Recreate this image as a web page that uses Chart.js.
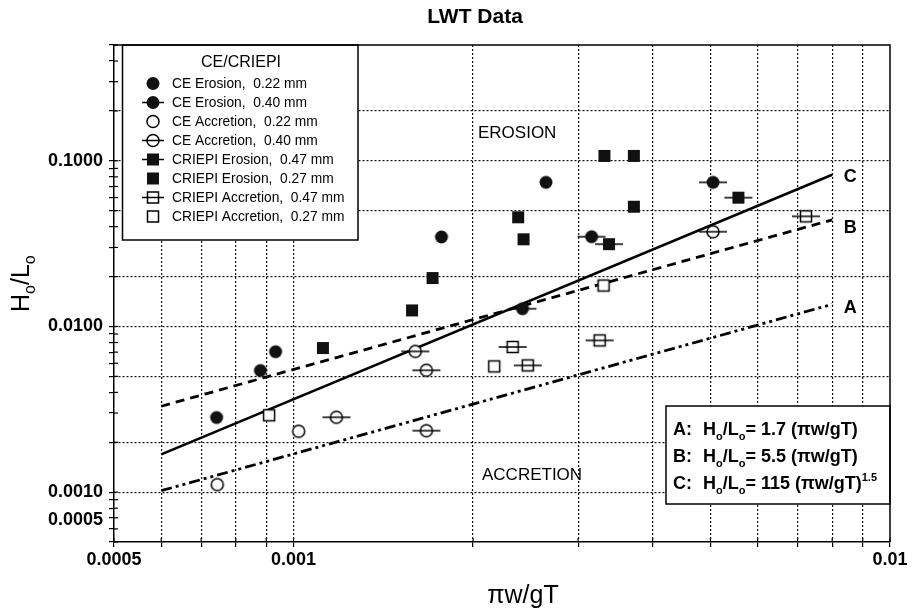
<!DOCTYPE html>
<html>
<head>
<meta charset="utf-8">
<title>LWT Data</title>
<script src="https://cdn.jsdelivr.net/npm/chart.js@4.4.1/dist/chart.umd.min.js"></script>
<style>
  html, body { margin: 0; padding: 0; background: #fff; }
</style>
</head>
<body>
<canvas id="lwtChart" width="912" height="613"></canvas>
<script>
// CE points (x = pi*w/gT, y = Ho/Lo)
const ceEro22X = [0.000743, 0.00088, 0.000933, 0.00177, 0.00265];
const ceEro22Y = [0.00282, 0.00542, 0.00704, 0.0347, 0.0741];
const ceEro40X = [0.00242, 0.00316, 0.00505];
const ceEro40Y = [0.0128, 0.0348, 0.0741];
const ceAcc22X = [0.000745, 0.00102];
const ceAcc22Y = [0.00111, 0.00233];
const ceAcc40X = [0.00118, 0.0016, 0.00167, 0.00167, 0.00505];
const ceAcc40Y = [0.00283, 0.00707, 0.00544, 0.00235, 0.0373];

// CRIEPI points
const crEro47X = [0.00338, 0.00557];
const crEro47Y = [0.0314, 0.0599];
const crEro27X = [0.00112, 0.00158, 0.00171, 0.00238, 0.00243, 0.00332, 0.00372, 0.00372];
const crEro27Y = [0.00741, 0.0125, 0.0196, 0.0456, 0.0336, 0.107, 0.107, 0.0528];
const crAcc47X = [0.00233, 0.00247, 0.00326, 0.00723];
const crAcc47Y = [0.00752, 0.00582, 0.00824, 0.0462];
const crAcc27X = [0.00091, 0.00217, 0.00331];
const crAcc27Y = [0.00291, 0.00574, 0.01766];

// criteria lines A, B, C (end points)
const lineX = [0.0006, 0.008];
const lineA = [0.00102, 0.0136];
const lineB = [0.0033, 0.044];
const lineC = [0.00169, 0.0823];
const lineNames = ['A', 'B', 'C'];

// axes
const xTickValues = [0.0005, 0.0006, 0.0007, 0.0008, 0.0009, 0.001, 0.002, 0.003, 0.004,
                     0.005, 0.006, 0.007, 0.008, 0.009, 0.01];
const xTickLabels = ['0.0005', '0.001', '0.01'];
const xLabelValues = [0.0005, 0.001, 0.01];
const yTickValues = [0.0005, 0.0006, 0.0007, 0.0008, 0.0009,
                     0.001, 0.002, 0.003, 0.004, 0.005, 0.006, 0.007, 0.008, 0.009,
                     0.01, 0.02, 0.03, 0.04, 0.05, 0.06, 0.07, 0.08, 0.09,
                     0.1, 0.2, 0.3, 0.4, 0.5];
const yTickLabels = ['0.0010', '0.0100', '0.1000'];
const yLabelValues = [0.001, 0.01, 0.1];
const yGridValues = [0.001, 0.002, 0.005, 0.01, 0.02, 0.05, 0.1, 0.2];

const FONT = '"Liberation Sans", Arial, sans-serif';

function near(a, b) { return Math.abs(a - b) / b < 1e-6; }
function idxOf(v, list) { return list.findIndex(t => near(v, t)); }
function toPts(xs, ys) { return xs.map((x, i) => ({ x: x, y: ys[i] })); }

// fc = filled circle, oc = open circle, fs = filled square, os = open square
function drawMarker(ctx, kind, x, y, bar) {
    const filled = kind === 'fc' || kind === 'fs';
    ctx.save();
    ctx.strokeStyle = '#000';
    ctx.lineWidth = 1.5;
    const barLine = () => {
        ctx.beginPath();
        ctx.moveTo(x - bar, y);
        ctx.lineTo(x + bar, y);
        ctx.stroke();
    };
    if (bar && filled) barLine();
    ctx.fillStyle = filled ? '#111' : '#fff';
    ctx.beginPath();
    if (kind === 'fc' || kind === 'oc') {
        ctx.arc(x, y, filled ? 6.5 : 6, 0, Math.PI * 2);
    } else {
        const h = filled ? 6 : 5.5;
        ctx.rect(x - h, y - h, 2 * h, 2 * h);
    }
    ctx.fill();
    if (!filled) ctx.stroke();
    if (bar && !filled) barLine();
    ctx.restore();
}

function markerCanvas(kind, bar) {
    const w = bar ? 2 * bar + 2 : 18, h = 18;
    const c = document.createElement('canvas');
    c.width = w; c.height = h;
    drawMarker(c.getContext('2d'), kind, w / 2, h / 2, bar);
    return c;
}

// text with sub / superscript parts
function drawRich(ctx, parts, x, y, size, weight) {
    let cx = x;
    parts.forEach(p => {
        const k = p[1] || 'n';
        const s = k === 'n' ? size : Math.round(size * 0.62);
        const dy = k === 'sub' ? size * 0.25 : (k === 'sup' ? -size * 0.45 : 0);
        ctx.font = weight + ' ' + s + 'px ' + FONT;
        ctx.fillText(p[0], cx, y + dy);
        cx += ctx.measureText(p[0]).width;
    });
    return cx - x;
}

const seriesInfo = [
    { label: 'CE Erosion,  0.22 mm', kind: 'fc', bar: 0, xs: ceEro22X, ys: ceEro22Y },
    { label: 'CE Erosion,  0.40 mm', kind: 'fc', bar: 14, xs: ceEro40X, ys: ceEro40Y },
    { label: 'CE Accretion,  0.22 mm', kind: 'oc', bar: 0, xs: ceAcc22X, ys: ceAcc22Y },
    { label: 'CE Accretion,  0.40 mm', kind: 'oc', bar: 14, xs: ceAcc40X, ys: ceAcc40Y },
    { label: 'CRIEPI Erosion,  0.47 mm', kind: 'fs', bar: 14, xs: crEro47X, ys: crEro47Y },
    { label: 'CRIEPI Erosion,  0.27 mm', kind: 'fs', bar: 0, xs: crEro27X, ys: crEro27Y },
    { label: 'CRIEPI Accretion,  0.47 mm', kind: 'os', bar: 14, xs: crAcc47X, ys: crAcc47Y },
    { label: 'CRIEPI Accretion,  0.27 mm', kind: 'os', bar: 0, xs: crAcc27X, ys: crAcc27Y }
];

const pointSets = seriesInfo.map(s => ({
    label: s.label,
    data: toPts(s.xs, s.ys),
    pointStyle: markerCanvas(s.kind, s.bar),
    pointRadius: 6,
    showLine: false
}));

const lineDash = [[11, 4, 3, 4, 3, 4], [9, 6], []];
const lineSets = [lineA, lineB, lineC].map((ys, i) => ({
    label: lineNames[i],
    data: toPts(lineX, ys),
    showLine: true,
    borderColor: '#000',
    borderWidth: i === 2 ? 2.6 : 2.8,
    borderDash: lineDash[i],
    pointRadius: 0,
    fill: false
}));

const decorPlugin = {
    id: 'decor',
    beforeDatasetsDraw(chart) {
        const ctx = chart.ctx;
        const a = chart.chartArea;
        const xs = chart.scales.x, ys = chart.scales.y;
        ctx.save();
        // inner tick marks
        ctx.strokeStyle = '#000';
        ctx.lineWidth = 1.2;
        xTickValues.forEach(v => {
            const px = xs.getPixelForValue(v);
            ctx.beginPath(); ctx.moveTo(px, a.bottom); ctx.lineTo(px, a.bottom - 4); ctx.stroke();
        });
        yTickValues.forEach(v => {
            const py = ys.getPixelForValue(v);
            ctx.beginPath(); ctx.moveTo(a.left, py); ctx.lineTo(a.left + 4, py); ctx.stroke();
        });
        // legend box
        ctx.fillStyle = '#fff';
        ctx.lineWidth = 1.5;
        ctx.fillRect(122.5, a.top, 235.5, 195);
        ctx.strokeRect(122.5, a.top, 235.5, 195);
        // equation box
        ctx.fillRect(666, 406, a.right - 666, 98);
        ctx.strokeRect(666, 406, a.right - 666, 98);
        ctx.restore();
    },
    afterDraw(chart) {
        const ctx = chart.ctx;
        const a = chart.chartArea;
        const xs = chart.scales.x, ys = chart.scales.y;
        ctx.save();
        ctx.fillStyle = '#000';
        ctx.strokeStyle = '#000';
        // frame top/right
        ctx.lineWidth = 1.5;
        ctx.beginPath();
        ctx.moveTo(a.left, a.top); ctx.lineTo(a.right, a.top); ctx.lineTo(a.right, a.bottom);
        ctx.stroke();

        ctx.textBaseline = 'alphabetic';
        // title
        ctx.textAlign = 'center';
        ctx.font = 'bold 21px ' + FONT;
        ctx.fillText('LWT Data', 475, 23);

        // x axis title
        ctx.font = '25px ' + FONT;
        ctx.fillText('\u03c0w/gT', 523, 603);

        // y axis title
        ctx.textAlign = 'left';
        ctx.save();
        ctx.translate(29, 312);
        ctx.rotate(-Math.PI / 2);
        drawRich(ctx, [['H'], ['o', 'sub'], ['/L'], ['o', 'sub']], 0, 0, 25, 'normal');
        ctx.restore();

        // bottom y tick label, lifted off the x labels
        ctx.textAlign = 'right';
        ctx.font = 'bold 18px ' + FONT;
        ctx.fillText('0.0005', 103, ys.getPixelForValue(0.0005) - 17);

        // region names
        ctx.textAlign = 'left';
        ctx.font = '17px ' + FONT;
        ctx.fillText('EROSION', 478, 138);
        ctx.fillText('ACCRETION', 482, 480);

        // line names at the right end
        ctx.textAlign = 'center';
        ctx.font = 'bold 18px ' + FONT;
        const ends = [lineA, lineB, lineC];
        const dy = [9, 13, 7];
        ends.forEach((ln, i) => {
            const px = xs.getPixelForValue(lineX[1]) + 18;
            const py = ys.getPixelForValue(ln[1]) + dy[i];
            ctx.fillText(lineNames[i], px, py);
        });

        // legend content
        ctx.font = '16px ' + FONT;
        ctx.fillText('CE/CRIEPI', 241, 67);
        ctx.textAlign = 'left';
        seriesInfo.forEach((s, i) => {
            const y = 83.5 + i * 19;
            drawMarker(ctx, s.kind, 153, y, s.bar ? 11 : 0);
            ctx.fillStyle = '#000';
            ctx.font = '13.8px ' + FONT;
            ctx.fillText(s.label, 172, y + 4.5);
        });

        // equations
        const eq = [
            ['A:', [['H'], ['o', 'sub'], ['/L'], ['o', 'sub'], ['= 1.7 (\u03c0w/gT)']]],
            ['B:', [['H'], ['o', 'sub'], ['/L'], ['o', 'sub'], ['= 5.5 (\u03c0w/gT)']]],
            ['C:', [['H'], ['o', 'sub'], ['/L'], ['o', 'sub'], ['= 115 (\u03c0w/gT)'], ['1.5', 'sup']]]
        ];
        const eqY = [435, 462, 489];
        eq.forEach((e, i) => {
            ctx.font = 'bold 18px ' + FONT;
            ctx.fillText(e[0], 673, eqY[i]);
            drawRich(ctx, e[1], 703, eqY[i], 18, 'bold');
        });
        ctx.restore();
    }
};

function tickFont() { return { family: FONT, size: 18, weight: 'bold' }; }

new Chart(document.getElementById('lwtChart').getContext('2d'), {
    type: 'scatter',
    data: { datasets: pointSets.concat(lineSets) },
    options: {
        responsive: false,
        animation: false,
        devicePixelRatio: 1,
        events: [],
        layout: { padding: { left: 0, right: 22, top: 45, bottom: 0 } },
        plugins: {
            legend: { display: false },
            title: { display: false },
            tooltip: { enabled: false }
        },
        scales: {
            x: {
                type: 'logarithmic',
                min: 0.0005,
                max: 0.01,
                afterBuildTicks: s => { s.ticks = xTickValues.map(v => ({ value: v })); },
                afterFit: s => { s.height = 71; },
                ticks: {
                    autoSkip: false, maxRotation: 0, minRotation: 0,
                    padding: 2, color: '#000', font: tickFont(),
                    callback: v => { const i = idxOf(v, xLabelValues); return i >= 0 ? xTickLabels[i] : ''; }
                },
                grid: {
                    color: c => (c.tick && idxOf(c.tick.value, [0.0005, 0.01]) < 0) ? '#111' : 'rgba(0,0,0,0)',
                    lineWidth: 1.2,
                    tickLength: 5,
                    tickColor: '#000',
                    tickWidth: 1.2
                },
                border: { display: true, color: '#000', width: 1.5, dash: [2, 2] }
            },
            y: {
                type: 'logarithmic',
                min: 0.0005,
                max: 0.5,
                afterBuildTicks: s => { s.ticks = yTickValues.map(v => ({ value: v })); },
                afterFit: s => { s.width = 114; },
                ticks: {
                    autoSkip: false, padding: 6, color: '#000', font: tickFont(),
                    callback: v => { const i = idxOf(v, yLabelValues); return i >= 0 ? yTickLabels[i] : ''; }
                },
                grid: {
                    color: c => (c.tick && idxOf(c.tick.value, yGridValues) >= 0) ? '#111' : 'rgba(0,0,0,0)',
                    lineWidth: 1.2,
                    tickLength: 5,
                    tickColor: '#000',
                    tickWidth: 1.2
                },
                border: { display: true, color: '#000', width: 1.5, dash: [2, 2] }
            }
        }
    },
    plugins: [decorPlugin]
});
</script>
</body>
</html>
